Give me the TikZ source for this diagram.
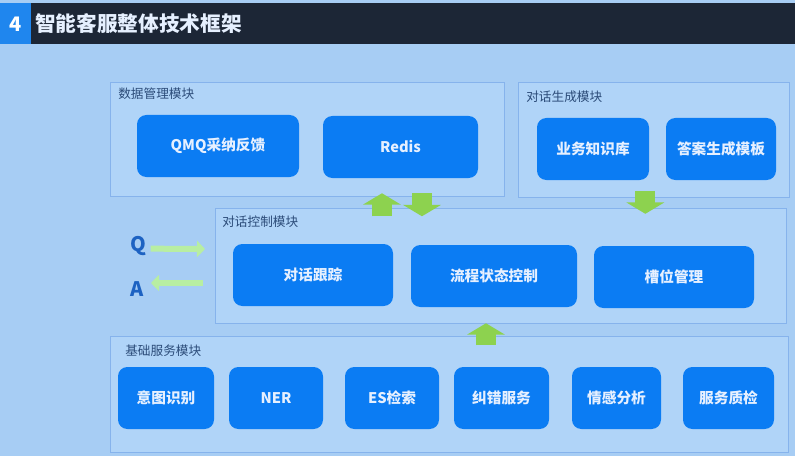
\documentclass[tikz,border=0pt]{standalone}
\usepackage{fontspec}
\usepackage{xcolor}
\usetikzlibrary{arrows.meta}
\setmainfont{Noto Sans CJK SC}
\definecolor{kfbg}{HTML}{A7CDF4}
\definecolor{kfpanel}{HTML}{B0D4F8}
\definecolor{kfborder}{HTML}{86B3EC}
\definecolor{kfbox}{HTML}{0B7CF3}
\definecolor{kfboxtext}{HTML}{E6F0FF}
\definecolor{kfbar}{HTML}{1C2636}
\definecolor{kfnum}{HTML}{1F86EE}
\definecolor{kflabel}{HTML}{2B4B78}
\definecolor{kfgreen}{HTML}{8DD24F}
\definecolor{kfpale}{HTML}{B8EEA2}
\definecolor{kfqa}{HTML}{1D62C2}

\begin{document}
\begin{tikzpicture}[
            x=0.75pt, y=-0.75pt,
            panel/.style={draw=kfborder, fill=kfpanel, line width=0.6pt, anchor=north west, inner sep=0pt},
            box/.style={rectangle, rounded corners=7pt, fill=kfbox, text=kfboxtext, font=\bfseries\fontsize{11}{13}\selectfont, minimum height=46.5pt},
            tag/.style={anchor=west, text=kflabel, font=\fontsize{9.5}{11}\selectfont, inner sep=0pt},
            bigarrow/.style={-{Triangle[length=8.5pt,width=28pt]}, line width=15pt, kfgreen},
            qaarrow/.style={-{Triangle[length=6pt,width=12pt]}, line width=4.5pt, kfpale},
            qatext/.style={text=kfqa, font=\bfseries\fontsize{15}{17}\selectfont}
        ]
            % Background and title bar
            \fill[kfbg] (0,0) rectangle (795,456);
            \fill[kfbar] (0,3) rectangle (795,44);
            \fill[kfnum] (0,3) rectangle (31,44);
            \node[text=white, font=\bfseries\fontsize{15}{17}\selectfont] (num) at (16,24) {4};
            \node[anchor=west, text=kfboxtext, font=\bfseries\fontsize{15.5}{17}\selectfont, inner sep=0pt] (title) at (35,24) {智能客服整体技术框架};

            % Modules
            \node[panel, minimum width=295.5pt, minimum height=85.5pt] (data) at (110,82) {};
            \node[panel, minimum width=203.25pt, minimum height=86.25pt] (gen) at (518,82) {};
            \node[panel, minimum width=428.25pt, minimum height=86.25pt] (ctrl) at (215,208) {};
            \node[panel, minimum width=508.5pt, minimum height=87pt] (base) at (110,336) {};
            \node[tag] (datatag) at (118,94) {数据管理模块};
            \node[tag] (gentag) at (526,97) {对话生成模块};
            \node[tag] (ctrltag) at (222,222) {对话控制模块};
            \node[tag] (basetag) at (125,351) {基础服务模块};

            % Data management
            \node[box, minimum width=121.5pt] (qmq) at (218,146) {QMQ采纳反馈};
            \node[box, minimum width=116.25pt] (redis) at (400.5,147) {Redis};

            % Dialogue generation
            \node[box, minimum width=84pt] (know) at (593,149) {业务知识库};
            \node[box, minimum width=82.5pt] (tmpl) at (721,149) {答案生成模板};

            % Dialogue control
            \node[box, minimum width=120pt] (track) at (313,275) {对话跟踪};
            \node[box, minimum width=124.5pt] (flow) at (494,276) {流程状态控制};
            \node[box, minimum width=120pt] (slot) at (674,277) {槽位管理};

            % Basic services
            \node[box, minimum width=72pt] (intent) at (166,398) {意图识别};
            \node[box, minimum width=70.5pt] (ner) at (276,398) {NER};
            \node[box, minimum width=70.5pt] (es) at (392,398) {ES检索};
            \node[box, minimum width=71.25pt] (fix) at (501.5,398) {纠错服务};
            \node[box, minimum width=66.75pt] (emo) at (616.5,398) {情感分析};
            \node[box, minimum width=68.25pt] (check) at (728.5,398) {服务质检};

            % Flows between modules
            \draw[bigarrow] ([xshift=-13.9pt,yshift=-28.5pt]redis.south) -- ([xshift=-13.9pt,yshift=-11.25pt]redis.south);
            \draw[bigarrow] ([xshift=16.1pt,yshift=-11.25pt]redis.south) -- ([xshift=16.1pt,yshift=-28.5pt]redis.south);
            \draw[bigarrow] ([xshift=-6.4pt,yshift=5.25pt]gen.south) -- ([xshift=-6.4pt,yshift=-12pt]gen.south);
            \draw[bigarrow] ([xshift=-6pt,yshift=-28.5pt]flow.south) -- ([xshift=-6pt,yshift=-12pt]flow.south);

            % Question and answer
            \node[qatext] (q) at (138,246) {Q};
            \node[qatext] (a) at (137,289) {A};
            \coordinate (qin) at (205,249);
            \coordinate (aout) at (203,283);
            \coordinate (aend) at (151,283);
            \draw[qaarrow] ([yshift=-2pt]q.east) -- (qin);
            \draw[qaarrow] (aout) -- (aend);
        \end{tikzpicture}
\end{document}
